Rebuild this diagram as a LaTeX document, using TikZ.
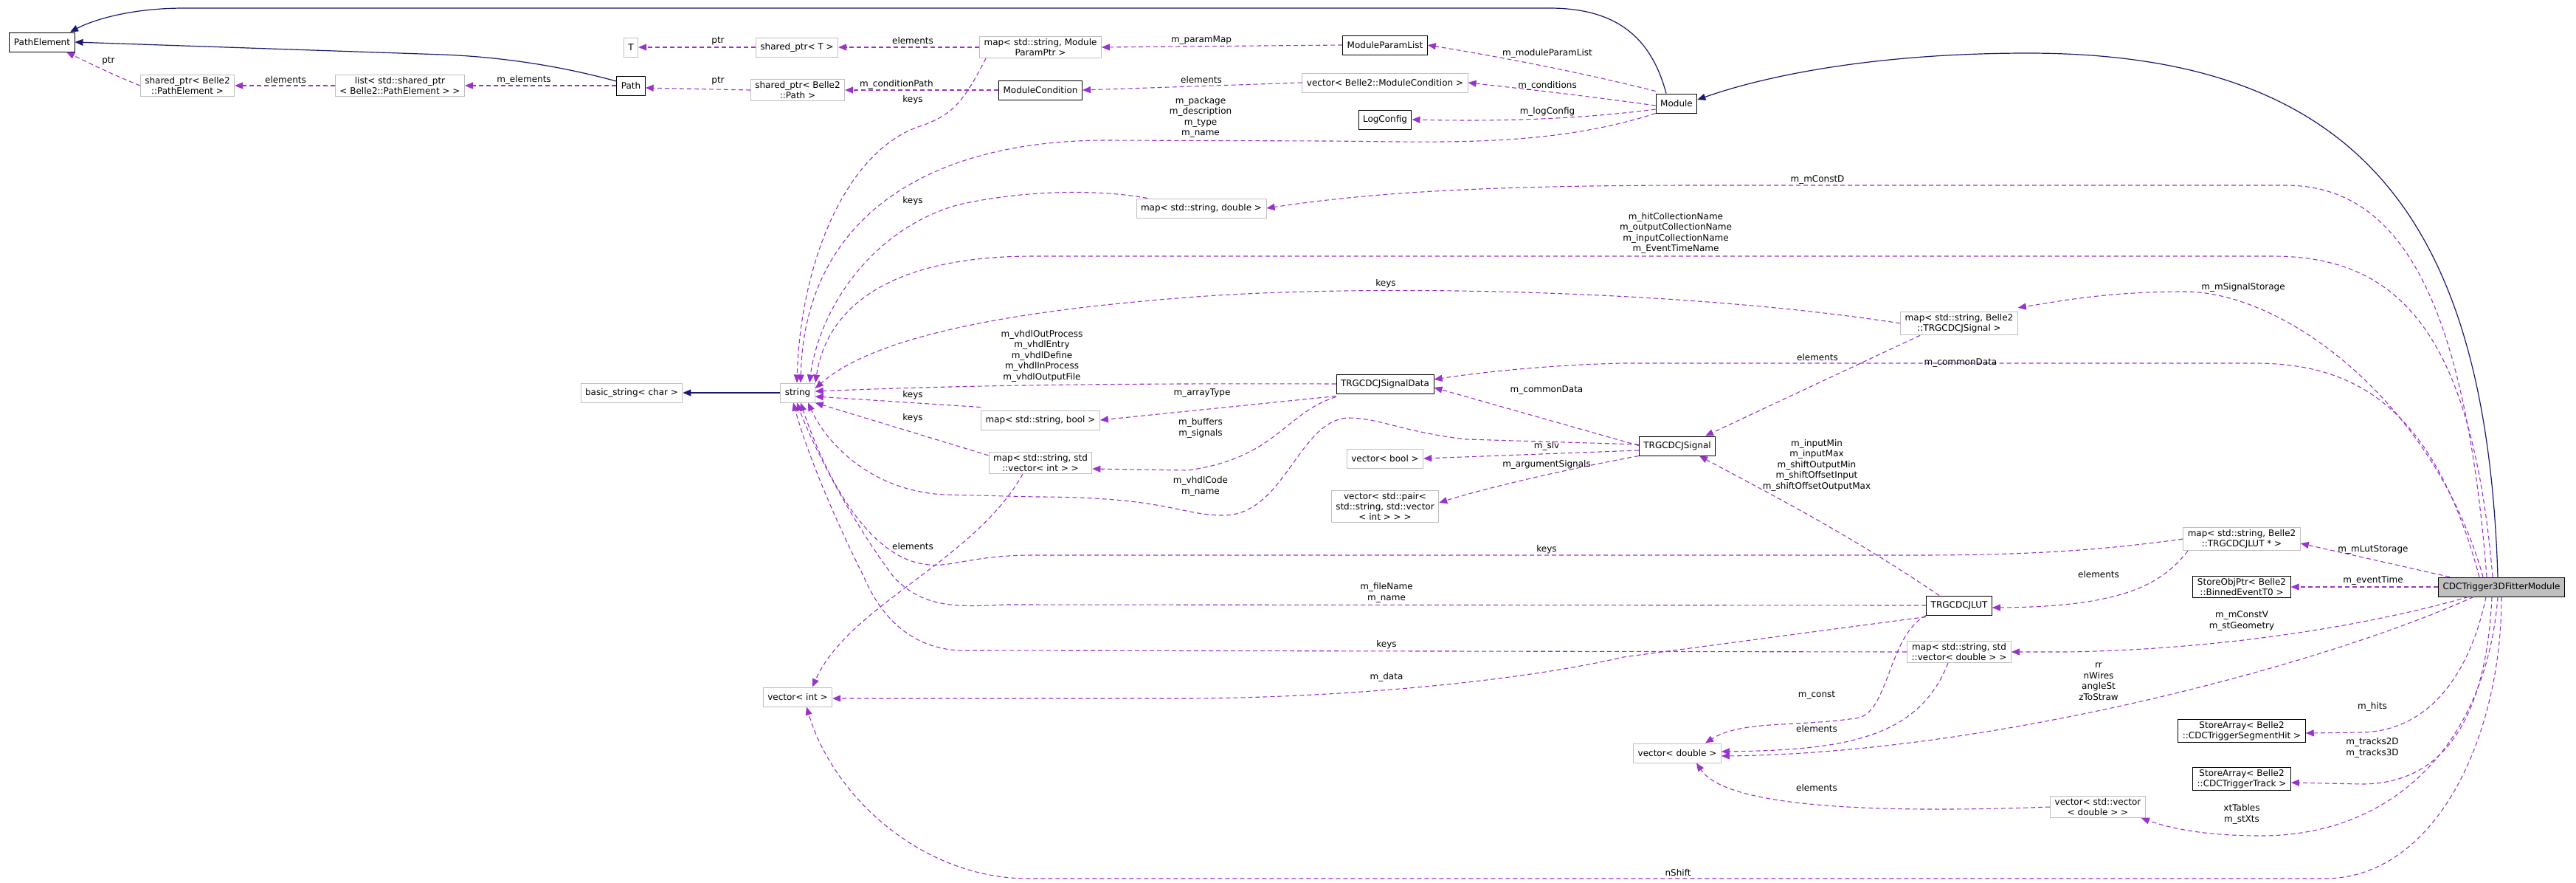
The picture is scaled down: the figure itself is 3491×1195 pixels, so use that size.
\documentclass[tikz,border=0pt]{standalone}
\usepackage{fontspec}
\setmainfont{DejaVu Sans}
\usetikzlibrary{arrows.meta}
\definecolor{orch}{HTML}{9A32CD}
\definecolor{mnavy}{HTML}{191970}
\definecolor{lgray}{HTML}{BFBFBF}
\begin{document}
\begin{tikzpicture}[x=1pt,y=-1pt,
  box/.style={draw=lgray,line width=1pt,fill=white,font=\fontsize{12}{14}\selectfont,minimum height=26pt,inner xsep=6pt,inner ysep=3pt,align=center},
  docbox/.style={box,draw=black},
  mainbox/.style={docbox,fill=lgray},
  use/.style={draw=orch,line width=1.1pt,dash pattern=on 6pt off 4pt,-{Triangle[length=11pt,width=9pt]}},
  inh/.style={draw=mnavy,line width=1.2pt,-{Triangle[length=11pt,width=9pt]}},
  lbl/.style={font=\fontsize{12}{14.5}\selectfont,align=center,inner sep=1pt}]
\useasboundingbox[fill=white] (0,0) rectangle (3491,1195);
% nodes
\node[docbox] (PE) at (57,57) {PathElement};
\node[box] (sPE) at (254,116) {shared\_ptr< Belle2\\::PathElement >};
\node[box] (lst) at (542,116) {list< std::shared\_ptr\\< Belle2::PathElement > >};
\node[docbox] (Path) at (855,116) {Path};
\node[box] (T) at (855,64) {T};
\node[box] (sPT) at (1080,64) {shared\_ptr< T >};
\node[box] (sPP) at (1081,122) {shared\_ptr< Belle2\\::Path >};
\node[box] (mMP) at (1410,64) {map< std::string, Module\\ParamPtr >};
\node[docbox] (MPL) at (1877,61) {ModuleParamList};
\node[docbox] (MC) at (1410,122) {ModuleCondition};
\node[box] (vMC) at (1877,112) {vector< Belle2::ModuleCondition >};
\node[docbox] (LC) at (1877,162) {LogConfig};
\node[docbox] (Mod) at (2272,140) {Module};
\node[box] (mD) at (1628,282) {map< std::string, double >};
\node[box] (str) at (1081,532) {string};
\node[box] (bs) at (856,532) {basic\_string< char >};
\node[docbox] (SD) at (1877,520) {TRGCDCJSignalData};
\node[box] (mB) at (1410,569) {map< std::string, bool >};
\node[box] (mVI) at (1410,627) {map< std::string, std\\::vector< int > >};
\node[box] (vB) at (1877,621) {vector< bool >};
\node[box] (vP) at (1877,686) {vector< std::pair<\\std::string, std::vector\\< int > > >};
\node[box] (mS) at (2655,438) {map< std::string, Belle2\\::TRGCDCJSignal >};
\node[docbox] (JS) at (2273,604) {TRGCDCJSignal};
\node[box] (mL) at (3038,730) {map< std::string, Belle2\\::TRGCDCJLUT * >};
\node[docbox] (SOP) at (3038,795) {StoreObjPtr< Belle2\\::BinnedEventT0 >};
\node[mainbox] (CDC) at (3390,795) {CDCTrigger3DFitterModule};
\node[docbox] (TL) at (2655,820) {TRGCDCJLUT};
\node[box] (mVD) at (2655,883) {map< std::string, std\\::vector< double > >};
\node[box] (vD) at (2273,1020) {vector< double >};
\node[docbox] (SH) at (3038,990) {StoreArray< Belle2\\::CDCTriggerSegmentHit >};
\node[docbox] (ST) at (3038,1055) {StoreArray< Belle2\\::CDCTriggerTrack >};
\node[box] (vVD) at (2843,1093) {vector< std::vector\\< double > >};
\node[box] (vI) at (1081,944) {vector< int >};
% inheritance
\draw[inh] ([yshift=6pt]Path.west) .. controls (780,95) and (700,78) .. (600,74) -- (PE.east);
\draw[inh] ([xshift=-14pt]Mod.north) .. controls (2240,60) and (2200,11) .. (2100,11) -- (250,11) .. controls (170,11) and (120,30) .. ([xshift=38pt]PE.north);
\draw[inh] ([xshift=-5pt]CDC.north) .. controls (3370,300) and (3200,72) .. (2748,72) .. controls (2550,72) and (2400,100) .. ([yshift=5pt]Mod.east);
\draw[inh] (str.west) -- (bs.east);
% usage edges top-left
\draw[use] (sPE.west) .. controls (150,100) and (120,85) .. ([xshift=33pt]PE.south);
\draw[use] (lst.west) -- (sPE.east);
\draw[use] (Path.west) -- (lst.east);
\draw[use] (sPT.west) -- (T.east);
\draw[use] (mMP.west) -- (sPT.east);
\draw[use] (sPP.west) -- ([yshift=-3pt]Path.east);
\draw[use] (MC.west) -- (sPP.east);
\draw[use] (MPL.west) -- (mMP.east);
\draw[use] (vMC.west) -- (MC.east);
\draw[use] ([yshift=3pt]Mod.north west) .. controls (2150,100) and (2050,80) .. (MPL.east);
\draw[use] ([yshift=-3pt]Mod.west) .. controls (2150,130) and (2080,122) .. (vMC.east);
\draw[use] ([yshift=-8pt]Mod.west) .. controls (2150,160) and (2050,165) .. (LC.east);
\draw[use] (Mod.south west) .. controls (2100,200) and (1950,192) .. (1800,191) -- (1500,190) .. controls (1250,190) and (1090,300) .. ([xshift=4pt]str.north);
\draw[use] ([xshift=-74pt]mMP.south) .. controls (1305,140) and (1290,155) .. (1250,170) .. controls (1150,200) and (1085,350) .. ([xshift=-1pt]str.north);
\draw[use] ([xshift=-73pt]mD.north) .. controls (1500,258) and (1400,255) .. (1300,277) .. controls (1180,310) and (1110,420) .. ([xshift=16pt]str.north);
% CDC edges
\draw[use] ([xshift=-20pt]CDC.north) .. controls (3340,400) and (3250,251) .. (3097,251) -- (2300,251) .. controls (2000,251) and (1850,262) .. (mD.east);
\draw[use] ([xshift=-12pt]CDC.north) .. controls (3350,450) and (3250,347) .. (3080,347) -- (1400,347) .. controls (1200,347) and (1120,420) .. ([xshift=24pt]str.north);
\draw[use] ([xshift=-25pt]CDC.north) .. controls (3300,550) and (3100,395) .. (2960,395) .. controls (2850,395) and (2780,410) .. ([yshift=5pt]mS.north east);
\draw[use] ([xshift=-30pt]CDC.north) .. controls (3300,560) and (3200,492) .. (3056,492) -- (2200,492) .. controls (2100,494) and (2000,505) .. ([yshift=6pt]SD.east);
\draw[use] ([xshift=-70pt]CDC.north) -- ([yshift=-6pt]mL.east);
\draw[use] (CDC.west) -- (SOP.east);
\draw[use] ([xshift=-45pt]CDC.south) .. controls (3200,850) and (3000,880) .. (2800,883) -- (mVD.east);
\draw[use] ([xshift=-38pt]CDC.south) .. controls (3150,900) and (2700,1020) .. ([yshift=-4pt]vD.east);
\draw[use] ([xshift=-21pt]CDC.south) .. controls (3350,900) and (3300,990) .. (3200,992) -- ([yshift=-3pt]SH.east);
\draw[use] ([xshift=-13pt]CDC.south) .. controls (3370,960) and (3320,1062) .. (3200,1062) -- ([yshift=-5pt]ST.east);
\draw[use] ([xshift=-5pt]CDC.south) .. controls (3370,1000) and (3250,1132) .. (3064,1132) .. controls (3000,1132) and (2950,1125) .. ([xshift=-6pt]vVD.south east);
\draw[use] (CDC.south) .. controls (3390,1000) and (3300,1190) .. (3150,1190) -- (1394,1190) .. controls (1250,1190) and (1130,1080) .. ([xshift=12pt]vI.south);
% string and signal area
\draw[use] (mS.west) .. controls (2300,395) and (1900,385) .. (1650,400) .. controls (1350,420) and (1180,460) .. ([yshift=6pt]str.east);
\draw[use] (SD.west) .. controls (1500,519) and (1300,522) .. ([yshift=2pt]str.east);
\draw[use] ([yshift=-3pt]SD.south west) -- (mB.east);
\draw[use] ([yshift=-4pt]SD.south west) .. controls (1740,560) and (1730,620) .. (1610,637) -- ([yshift=-8pt]mVI.east);
\draw[use] ([yshift=4pt]mB.north west) -- ([yshift=-5pt]str.east);
\draw[use] ([yshift=-5pt]mVI.north west) -- (str.south east);
\draw[use] ([xshift=-24pt]mVI.south) .. controls (1320,760) and (1150,820) .. ([xshift=20pt]vI.north);
\draw[use] ([yshift=-13pt]JS.north west) -- ([yshift=-5pt]SD.east);
\draw[use] ([yshift=-6pt]JS.west) -- (vB.east);
\draw[use] (JS.south west) .. controls (2100,640) and (2000,665) .. ([yshift=5pt]vP.east);
\draw[use] ([yshift=2pt]JS.west) -- (1987,595) .. controls (1900,585) and (1870,566) .. (1826,566) .. controls (1760,570) and (1740,698) .. (1658,698) .. controls (1600,698) and (1580,673) .. (1405,673) -- (1280,670) .. controls (1180,665) and (1120,600) .. ([xshift=14pt]str.south);
\draw[use] ([xshift=-53pt]mS.south) -- ([xshift=38pt]JS.north);
\draw[use] (mL.west) .. controls (2850,745) and (2750,752) .. (2600,752) -- (1400,752) .. controls (1320,752) and (1290,768) .. (1260,765) .. controls (1180,760) and (1120,650) .. ([xshift=4pt]str.south);
\draw[use] ([xshift=-73pt]mL.south) .. controls (2930,790) and (2880,822) .. ([yshift=-3pt]TL.east);
\draw[use] ([xshift=-27pt]TL.north) .. controls (2500,720) and (2400,670) .. ([xshift=30pt]JS.south);
\draw[use] (TL.west) -- (1363,819) .. controls (1300,822) and (1250,825) .. (1210,780) .. controls (1150,700) and (1100,600) .. ([xshift=-1pt]str.south);
\draw[use] (mVD.west) -- (1320,881) .. controls (1250,885) and (1200,850) .. (1170,780) .. controls (1120,680) and (1090,600) .. ([xshift=-6pt]str.south);
\draw[use] ([yshift=-2pt]TL.south west) -- (2200,890) .. controls (2050,925) and (1800,946) .. (1600,946) -- ([yshift=-2pt]vI.east);
\draw[use] (TL.south west) .. controls (2560,860) and (2560,960) .. (2520,972) .. controls (2440,985) and (2360,975) .. ([xshift=38pt]vD.north);
\draw[use] ([xshift=-15pt]mVD.south) .. controls (2600,1000) and (2500,1016) .. ([yshift=2pt]vD.east);
\draw[use] (vVD.west) .. controls (2450,1105) and (2330,1080) .. ([xshift=26pt]vD.south);
% labels
\node[lbl] (l1) at (147,83) {ptr};
\node[lbl] (l2) at (387,108) {elements};
\node[lbl] (l3) at (710,108) {m\_elements};
\node[lbl] (l4) at (973,56) {ptr};
\node[lbl] (l5) at (973,110) {ptr};
\node[lbl] (l6) at (1237,55) {elements};
\node[lbl] (l7) at (1215,114) {m\_conditionPath};
\node[lbl] (l8) at (1237,135) {keys};
\node[lbl] (l9) at (1628,55) {m\_paramMap};
\node[lbl] (l10) at (2097,72) {m\_moduleParamList};
\node[lbl] (l11) at (1628,108) {elements};
\node[lbl] (l12) at (2097,116) {m\_conditions};
\node[lbl] (l13) at (2097,151) {m\_logConfig};
\node[lbl] (l14) at (1627,159) {m\_package\\m\_description\\m\_type\\m\_name};
\node[lbl] (l15) at (1237,272) {keys};
\node[lbl] (l16) at (2463,243) {m\_mConstD};
\node[lbl] (l17) at (2271,316) {m\_hitCollectionName\\m\_outputCollectionName\\m\_inputCollectionName\\m\_EventTimeName};
\node[lbl] (l18) at (1878,384) {keys};
\node[lbl] (l19) at (3040,389) {m\_mSignalStorage};
\node[lbl] (l20) at (2463,484) {elements};
\node[lbl] (l21) at (2657,492) {m\_commonData};
\node[lbl] (l22) at (1412,482) {m\_vhdlOutProcess\\m\_vhdlEntry\\m\_vhdlDefine\\m\_vhdlInProcess\\m\_vhdlOutputFile};
\node[lbl] (l23) at (1629,533) {m\_arrayType};
\node[lbl] (l24) at (1237,535) {keys};
\node[lbl] (l25) at (1237,566) {keys};
\node[lbl] (l26) at (1627,580) {m\_buffers\\m\_signals};
\node[lbl] (l27) at (2096,529) {m\_commonData};
\node[lbl] (l28) at (2096,604) {m\_slv};
\node[lbl] (l29) at (2096,629) {m\_argumentSignals};
\node[lbl] (l30) at (1627,659) {m\_vhdlCode\\m\_name};
\node[lbl] (l31) at (2462,630) {m\_inputMin\\m\_inputMax\\m\_shiftOutputMin\\m\_shiftOffsetInput\\m\_shiftOffsetOutputMax};
\node[lbl] (l32) at (1237,740) {elements};
\node[lbl] (l33) at (2096,744) {keys};
\node[lbl] (l34) at (3216,744) {m\_mLutStorage};
\node[lbl] (l35) at (2844,778) {elements};
\node[lbl] (l36) at (3216,786) {m\_eventTime};
\node[lbl] (l37) at (1879,803) {m\_fileName\\m\_name};
\node[lbl] (l38) at (3038,841) {m\_mConstV\\m\_stGeometry};
\node[lbl] (l39) at (1879,873) {keys};
\node[lbl] (l40) at (2844,923) {rr\\nWires\\angleSt\\zToStraw};
\node[lbl] (l41) at (1879,917) {m\_data};
\node[lbl] (l42) at (2462,942) {m\_const};
\node[lbl] (l43) at (3215,957) {m\_hits};
\node[lbl] (l44) at (2462,987) {elements};
\node[lbl] (l45) at (3215,1013) {m\_tracks2D\\m\_tracks3D};
\node[lbl] (l46) at (2462,1067) {elements};
\node[lbl] (l47) at (3038,1103) {xtTables\\m\_stXts};
\node[lbl] (l48) at (2274,1182) {nShift};
\end{tikzpicture}
\end{document}
